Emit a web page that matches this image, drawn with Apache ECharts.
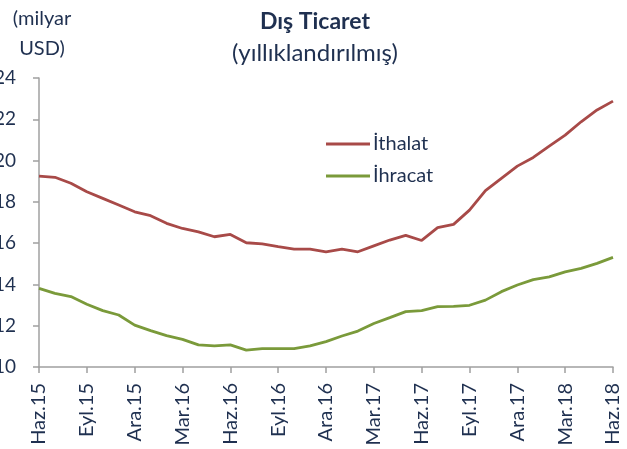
<!DOCTYPE html>
<html>
<head>
<meta charset="utf-8">
<script src="https://cdn.jsdelivr.net/npm/echarts@6/dist/echarts.min.js"></script>
<style>html,body{margin:0;padding:0;background:#fff;}#c{width:627px;height:449px;}</style>
</head>
<body>
<div id="c"></div>
<script>
const categories = ['Haz.15','Tem.15','Ağu.15','Eyl.15','Eki.15','Kas.15','Ara.15','Oca.16','Şub.16','Mar.16','Nis.16','May.16','Haz.16','Tem.16','Ağu.16','Eyl.16','Eki.16','Kas.16','Ara.16','Oca.17','Şub.17','Mar.17','Nis.17','May.17','Haz.17','Tem.17','Ağu.17','Eyl.17','Eki.17','Kas.17','Ara.17','Oca.18','Şub.18','Mar.18','Nis.18','May.18','Haz.18'];
const ithalat = [19.25,19.19,18.9,18.49,18.17,17.85,17.52,17.33,16.96,16.71,16.55,16.31,16.42,16.02,15.96,15.83,15.71,15.71,15.58,15.71,15.58,15.87,16.15,16.38,16.13,16.75,16.91,17.6,18.54,19.14,19.73,20.15,20.7,21.23,21.88,22.45,22.88];
const ihracat = [13.81,13.57,13.41,13.04,12.73,12.52,12.03,11.76,11.52,11.34,11.07,11.02,11.07,10.82,10.89,10.89,10.89,11.02,11.23,11.5,11.74,12.11,12.39,12.68,12.73,12.92,12.94,12.99,13.24,13.65,13.97,14.23,14.37,14.61,14.78,15.02,15.31];
const yTicks = {min: 10, max: 24, interval: 2};
const seriesNames = ['İthalat', 'İhracat'];

const txt = '#1f3050';
const font = 'Lato';
const chart = echarts.init(document.getElementById('c'), null, {renderer: 'canvas'});
chart.setOption({
  animation: false,
  backgroundColor: '#fff',
  textStyle: {fontFamily: font, color: txt},
  title: [
    {text: 'Dış Ticaret', left: 310, textAlign: 'center', top: 5,
     textStyle: {fontFamily: font, fontSize: 23, fontWeight: 'bold', color: txt}},
    {text: '(yıllıklandırılmış)', left: 310, textAlign: 'center', top: 36,
     textStyle: {fontFamily: font, fontSize: 24, fontWeight: 'normal', color: txt}},
    {text: '(milyar\nUSD)', left: 37, textAlign: 'center', top: -1,
     textStyle: {fontFamily: font, fontSize: 20, fontWeight: 'normal', color: txt, lineHeight: 30, align: 'center'}}
  ],
  legend: {
    orient: 'vertical', left: 326, top: 133, padding: 0,
    itemWidth: 44, itemHeight: 3, itemGap: 10, icon: 'rect',
    data: seriesNames,
    textStyle: {fontFamily: font, fontSize: 20, color: txt, lineHeight: 22, padding: [0,0,0,-2]}
  },
  grid: {left: 39, right: 14, top: 78, bottom: 82, containLabel: false, outerBoundsMode: 'none'},
  xAxis: {
    type: 'category', data: categories, boundaryGap: false,
    axisLine: {lineStyle: {color: '#a0a0a0', width: 1.5}},
    axisTick: {show: true, interval: 2, length: 6, lineStyle: {color: '#a0a0a0', width: 1.5}},
    axisLabel: {interval: 2, rotate: 90, margin: 16, fontFamily: font, fontSize: 20, color: txt},
    splitLine: {show: false}
  },
  yAxis: {
    type: 'value', min: yTicks.min, max: yTicks.max, interval: yTicks.interval,
    axisLine: {show: true, lineStyle: {color: '#a0a0a0', width: 1.5}},
    axisTick: {show: true, length: 6, lineStyle: {color: '#a0a0a0', width: 1.5}},
    axisLabel: {margin: 23, fontFamily: font, fontSize: 19, color: txt},
    splitLine: {show: false}
  },
  series: [
    {name: seriesNames[0], type: 'line', data: ithalat, symbol: 'none', smooth: false,
     lineStyle: {color: '#a84a48', width: 2.8}, itemStyle: {color: '#a84a48'}},
    {name: seriesNames[1], type: 'line', data: ihracat, symbol: 'none', smooth: false,
     lineStyle: {color: '#7a9a3a', width: 2.8}, itemStyle: {color: '#7a9a3a'}}
  ]
});
</script>
</body>
</html>
